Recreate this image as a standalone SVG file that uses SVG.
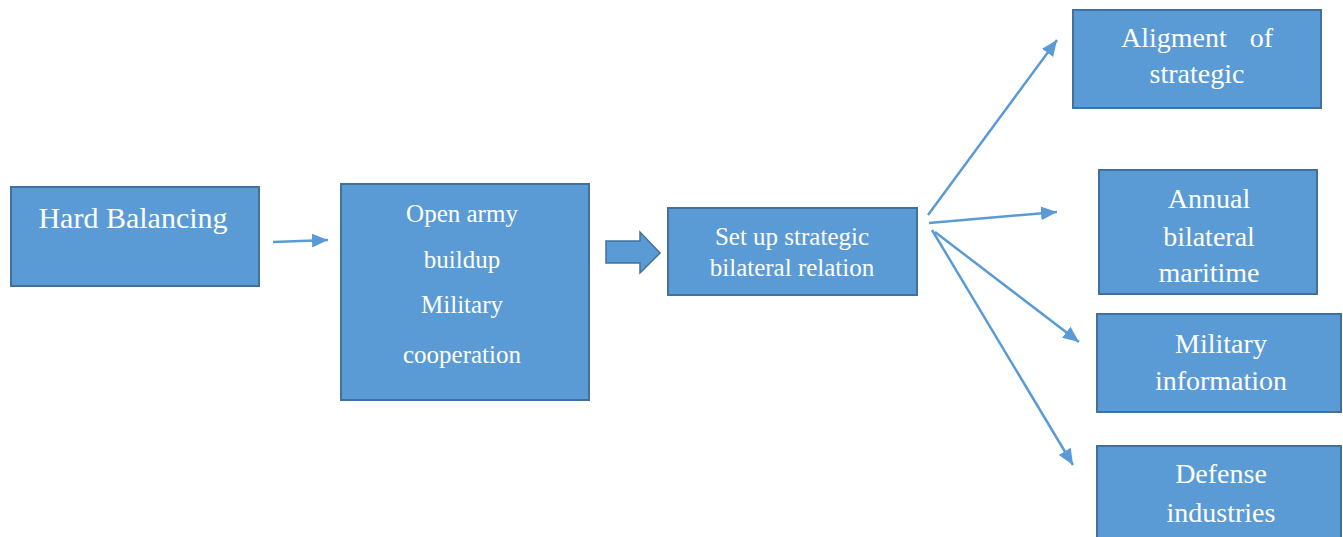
<svg xmlns="http://www.w3.org/2000/svg" width="1343" height="537" viewBox="0 0 1343 537">
<style>
.box{fill:#5B9BD5;stroke:#41719C;stroke-width:2}
.t{fill:#fff;font-family:"Liberation Serif","Times New Roman",serif;text-anchor:middle}
.conn{stroke:#5B9BD5;stroke-width:2.5;fill:none}
</style>
<defs>
<marker id="ah" markerUnits="userSpaceOnUse" markerWidth="18" markerHeight="16" refX="16" refY="7" orient="auto">
<path d="M0,0 L16,7 L0,14 Z" fill="#5B9BD5"/>
</marker>
</defs>
<rect width="1343" height="537" fill="#fff"/>
<g id="n1"><rect class="box" x="11" y="187" width="248" height="99"/>
<text class="t" x="133" y="228" font-size="30">Hard Balancing</text></g>
<g id="n2"><rect class="box" x="341" y="184" width="248" height="216"/>
<text class="t" x="462" y="222" font-size="25">Open army</text>
<text class="t" x="462" y="268" font-size="25">buildup</text>
<text class="t" x="462" y="313" font-size="25">Military</text>
<text class="t" x="462" y="363" font-size="25">cooperation</text></g>
<g id="n3"><rect class="box" x="668" y="208" width="249" height="87"/>
<text class="t" x="792" y="245" font-size="25">Set up strategic</text>
<text class="t" x="792" y="276" font-size="25">bilateral relation</text></g>
<g id="n4"><rect class="box" x="1073" y="10" width="248" height="98"/>
<text class="t" x="1197" y="47" font-size="28" word-spacing="16">Aligment of</text>
<text class="t" x="1197" y="83" font-size="28">strategic</text></g>
<g id="n5"><rect class="box" x="1099" y="170" width="218" height="124"/>
<text class="t" x="1209" y="208" font-size="28">Annual</text>
<text class="t" x="1209" y="246" font-size="28">bilateral</text>
<text class="t" x="1209" y="282" font-size="28">maritime</text></g>
<g id="n6"><rect class="box" x="1097" y="314" width="244" height="98"/>
<text class="t" x="1221" y="353" font-size="28">Military</text>
<text class="t" x="1221" y="390" font-size="28">information</text></g>
<g id="n7"><rect class="box" x="1097" y="446" width="244" height="100"/>
<text class="t" x="1221" y="483" font-size="28">Defense</text>
<text class="t" x="1221" y="522" font-size="28">industries</text></g>
<g id="connectors">
<line class="conn" x1="273" y1="242" x2="328" y2="240" marker-end="url(#ah)"/>
<path d="M606,241 L640,241 L640,232 L660,253 L640,273 L640,263 L606,263 Z" fill="#5B9BD5" stroke="#41719C" stroke-width="1.5"/>
<line class="conn" x1="928" y1="215" x2="1057" y2="40" marker-end="url(#ah)"/>
<line class="conn" x1="929" y1="223" x2="1057" y2="212" marker-end="url(#ah)"/>
<line class="conn" x1="935" y1="232" x2="1079" y2="342" marker-end="url(#ah)"/>
<line class="conn" x1="932" y1="230" x2="1073" y2="465" marker-end="url(#ah)"/>
</g>
</svg>
